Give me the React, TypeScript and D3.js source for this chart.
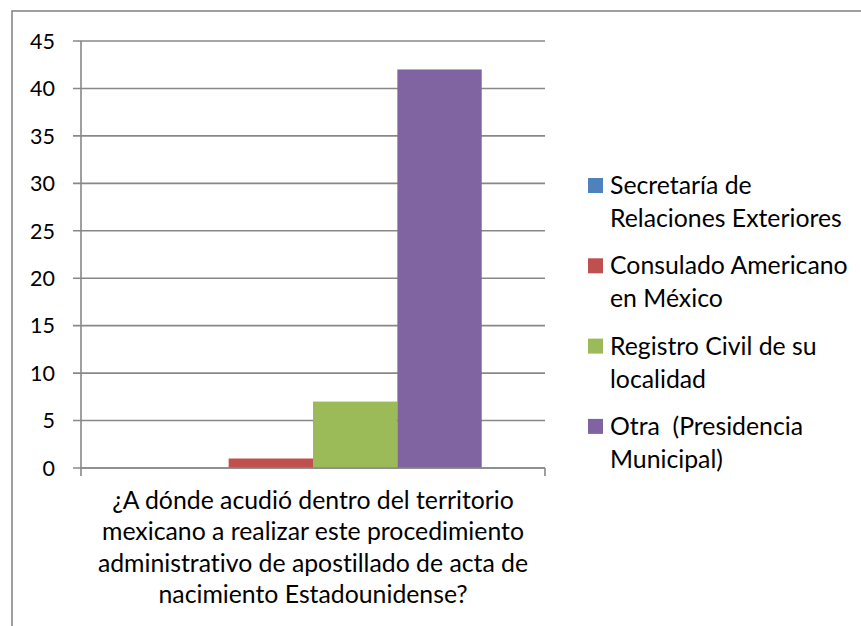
import React from "react";
import * as d3 from "d3";

const categories = ["¿A dónde acudió dentro del territorio mexicano a realizar este procedimiento administrativo de apostillado de acta de nacimiento Estadounidense?"];
const categoryLines = [
  "¿A dónde acudió dentro del territorio",
  "mexicano a realizar este procedimiento",
  "administrativo de apostillado de acta de",
  "nacimiento Estadounidense?",
];
const seriesNames = [
  "Secretaría de Relaciones Exteriores",
  "Consulado Americano en México",
  "Registro Civil de su localidad",
  "Otra  (Presidencia Municipal)",
];
const legendLines = [
  ["Secretaría de", "Relaciones Exteriores"],
  ["Consulado Americano", "en México"],
  ["Registro Civil de su", "localidad"],
  ["Otra  (Presidencia", "Municipal)"],
];
const seriesValues = [0, 1, 7, 42];
const seriesColors = ["#4F81BD", "#C0504D", "#9BBB59", "#8064A2"];
const yTicks = [0, 5, 10, 15, 20, 25, 30, 35, 40, 45];

const W = 861;
const H = 626;
const FONT = "Lato, 'Open Sans', sans-serif";
const FS_TICK = 21.5;
const FS = 24.8;

export default function App() {
  const left = 81;
  const right = 545;
  const top = 41;
  const bottom = 468;

  const y = d3.scaleLinear().domain([0, 45]).range([bottom, top]);
  const xCat = d3.scaleBand().domain(categories).range([left, right]).padding(0);
  const bw = xCat.bandwidth() / 5.5;
  const x0 = xCat(categories[0])! + 0.75 * bw;
  const xSer = d3
    .scaleBand()
    .domain(seriesNames)
    .range([x0, x0 + 4 * bw])
    .padding(0);

  const grid = "#888888";
  const cx = xCat(categories[0])! + xCat.bandwidth() / 2;
  const textStyle = { whiteSpace: "pre" as const, fontVariantLigatures: "none" as const };

  return (
    <svg
      width={W}
      height={H}
      style={{ position: "absolute", left: 0, top: 0, display: "block" }}
      fontFamily={FONT}
    >
      <rect x={0} y={0} width={W} height={H} fill="#fff" />
      <rect x={12} y={11} width={W + 4} height={H + 4} fill="none" stroke={grid} strokeWidth={1.6} />

      {yTicks.map((t) => (
        <g key={t}>
          <line x1={73} x2={right} y1={y(t)} y2={y(t)} stroke={grid} strokeWidth={1.6} />
          <text x={55} y={y(t)} dy="0.36em" textAnchor="end" fontSize={FS_TICK} fill="#000">
            {t}
          </text>
        </g>
      ))}

      {seriesNames.map((s, i) => (
        <rect
          key={s}
          x={xSer(s)!}
          y={y(seriesValues[i])}
          width={xSer.bandwidth()}
          height={bottom - y(seriesValues[i])}
          fill={seriesColors[i]}
        />
      ))}

      <line x1={left} x2={left} y1={top} y2={476} stroke={grid} strokeWidth={1.6} />
      <line x1={left} x2={right} y1={bottom} y2={bottom} stroke={grid} strokeWidth={1.6} />
      <line x1={right} x2={right} y1={bottom} y2={476} stroke={grid} strokeWidth={1.6} />

      {categoryLines.map((l, i) => (
        <text
          key={i}
          x={cx}
          y={509 + i * 31.3}
          textAnchor="middle"
          fontSize={FS}
          fill="#000"
          style={textStyle}
        >
          {l}
        </text>
      ))}

      {legendLines.map((lines, i) => {
        const base = 194 + i * 80.3;
        return (
          <g key={i}>
            <rect x={588} y={base - 16} width={15} height={15} fill={seriesColors[i]} />
            {lines.map((l, j) => (
              <text
                key={j}
                x={610}
                y={base + j * 33}
                fontSize={FS}
                fill="#000"
                style={textStyle}
              >
                {l}
              </text>
            ))}
          </g>
        );
      })}
    </svg>
  );
}
